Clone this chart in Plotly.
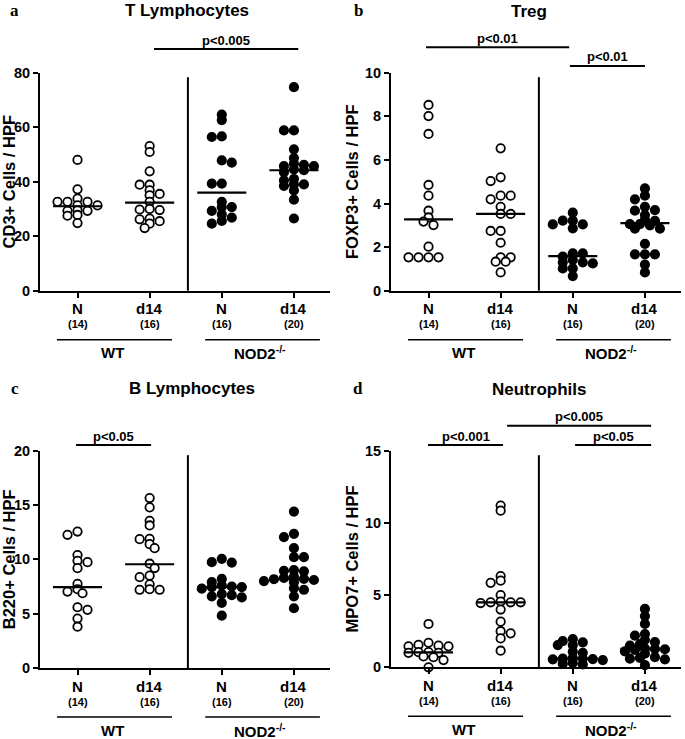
import math
import plotly.graph_objects as go

W, H = 685, 739

# ---------------- data ----------------
groups = ["N", "d14", "N", "d14"]
counts = ["(14)", "(16)", "(16)", "(20)"]
genotypes = ["WT", "NOD2<sup>-/-</sup>"]

t_wt_n = [48.0, 37.2, 33.8, 32.6, 32.6, 32.6, 31.3, 31.3, 29.5, 29.3, 29.3, 27.8, 27.5, 24.8]
t_wt_d14 = [53.1, 50.9, 43.8, 38.9, 38.9, 36.8, 35.5, 35.0, 32.6, 30.0, 29.8, 29.6, 26.5, 26.2, 25.5, 24.6, 23.0]
t_ko_n = [64.6, 62.6, 56.6, 56.4, 47.8, 47.0, 39.3, 39.3, 32.6, 30.7, 30.7, 29.3, 28.0, 26.8, 25.6, 24.6]
t_ko_d14 = [74.7, 58.8, 58.8, 51.9, 48.7, 46.6, 46.2, 45.7, 45.7, 44.5, 44.2, 43.5, 41.0, 40.5, 39.0, 39.0, 38.5, 36.8, 33.4, 26.5]
t_med = [31.0, 32.3, 36.0, 44.2]

tr_wt_n = [8.52, 8.01, 7.19, 4.85, 4.36, 3.67, 3.36, 3.17, 3.01, 2.02, 1.53, 1.53, 1.53, 1.53]
tr_wt_d14 = [6.53, 5.2, 5.03, 4.36, 4.36, 4.19, 3.85, 3.52, 3.52, 2.74, 2.74, 2.2, 1.53, 1.53, 1.33, 1.33, 0.84]
tr_ko_n = [3.58, 3.21, 3.21, 3.04, 3.04, 2.86, 1.71, 1.71, 1.56, 1.41, 1.3, 1.25, 1.3, 1.02, 1.02, 0.67]
tr_ko_d14 = [4.69, 4.36, 4.19, 3.85, 3.7, 3.67, 3.47, 3.25, 3.2, 3.05, 3.05, 3.0, 2.85, 2.85, 2.15, 1.67, 1.67, 1.67, 1.2, 0.84]
tr_med = [3.27, 3.52, 1.59, 3.1]

b_wt_n = [12.56, 12.26, 10.4, 9.86, 9.74, 9.19, 7.74, 7.25, 7.03, 6.88, 5.59, 5.35, 4.55, 3.8]
b_wt_d14 = [15.64, 14.78, 13.55, 13.12, 11.89, 11.86, 11.4, 11.03, 9.6, 9.2, 8.5, 8.36, 7.7, 7.25, 7.2, 7.2]
b_ko_n = [10.05, 9.74, 9.7, 8.2, 7.9, 7.6, 7.5, 7.45, 7.45, 7.3, 6.8, 6.7, 6.6, 6.5, 6.0, 4.82]
b_ko_d14 = [14.4, 12.35, 12.05, 11.03, 10.2, 10.2, 9.0, 8.95, 8.9, 8.4, 8.3, 8.2, 8.17, 8.1, 8.0, 7.9, 7.35, 7.2, 6.6, 5.5]
b_med = [7.44, 9.55, 7.45, 8.17]

n_wt_n = [3.0, 1.7, 1.55, 1.5, 1.45, 1.45, 1.05, 1.05, 1.0, 1.0, 0.75, 0.7, 0.5, 0.0]
n_wt_d14 = [11.2, 10.85, 6.32, 6.0, 5.85, 5.0, 4.55, 4.5, 4.5, 4.5, 4.45, 4.0, 3.16, 2.5, 2.35, 2.0, 1.15]
n_ko_n = [1.96, 1.82, 1.73, 1.54, 1.54, 1.08, 1.0, 0.65, 0.6, 0.6, 0.57, 0.55, 0.5, 0.3, 0.25, 0.2]
n_ko_d14 = [4.04, 3.55, 3.0, 2.3, 2.19, 1.9, 1.75, 1.6, 1.5, 1.3, 1.27, 1.25, 1.2, 1.1, 0.95, 0.7, 0.65, 0.6, 0.55, 0.15]
n_med = [1.04, 4.5, 0.6, 1.27]

titles = ["T Lymphocytes", "Treg", "B Lymphocytes", "Neutrophils"]
letters = ["a", "b", "c", "d"]
ytitles = ["CD3+ Cells / HPF", "FOXP3+ Cells / HPF", "B220+ Cells / HPF", "MPO7+ Cells / HPF"]
ymaxes = [80, 10, 20, 15]
ydticks = [20, 2, 5, 5]

# significance comparisons: (from x, to x, label, level)
sig_a = [(1.06, 3.06, "p<0.005", 0)]
sig_b = [(-0.035, 1.95, "p<0.01", 0), (1.96, 3.0, "p<0.01", 1)]
sig_c = [(-0.02, 1.02, "p<0.05", 1)]
sig_d = [(-0.007, 1.033, "p<0.001", 1), (1.09, 3.086, "p<0.005", 0), (2.032, 3.086, "p<0.05", 1)]

panel_data = [
    [t_wt_n, t_wt_d14, t_ko_n, t_ko_d14],
    [tr_wt_n, tr_wt_d14, tr_ko_n, tr_ko_d14],
    [b_wt_n, b_wt_d14, b_ko_n, b_ko_d14],
    [n_wt_n, n_wt_d14, n_ko_n, n_ko_d14],
]
panel_med = [t_med, tr_med, b_med, n_med]
panel_sig = [sig_a, sig_b, sig_c, sig_d]

# ---------------- layout geometry (pixels) ----------------
XR = [-0.52, 3.5]
geo = [
    dict(x0=40, x1=330, yt=72.7, yb=290.7, title=(187, 10), letter=(14, 10),
         sig_y=[(49, 41), (66, 57)]),
    dict(x0=391, x1=681, yt=72.7, yb=290.7, title=(529, 12), letter=(358, 10),
         sig_y=[(47.3, 38.3), (66, 57)]),
    dict(x0=40, x1=330, yt=450.7, yb=668, title=(192, 388), letter=(15, 388),
         sig_y=[(425.7, 416.7), (445, 436)]),
    dict(x0=391, x1=681, yt=450.7, yb=667.3, title=(539, 389), letter=(358, 388),
         sig_y=[(425.7, 416.7), (445, 436)]),
]


def px(x):
    return x / W


def py(y):
    return 1 - y / H


def swarm(vals, ppx, ppy, D=10.0, DY=4.6):
    """GraphPad-like scatter layout: half-diameter horizontal grid,
    elliptical collision that tolerates some vertical overlap."""
    pts = []
    offs = [0.0] * len(vals)
    order = sorted(range(len(vals)), key=lambda i: -vals[i])
    steps = [k * D / 2 for k in range(0, 14)]
    for i in order:
        y = vals[i] * ppy
        bal = sum(q[0] for q in pts)
        chosen = 0.0
        for s in steps:
            cands = [0.0] if s == 0 else ([-s, s] if bal >= 0 else [s, -s])
            ok = None
            for c in cands:
                if all(((c - qx) / D) ** 2 + ((y - qy) / DY) ** 2 >= 1 - 1e-6
                       or (abs(c - qx) >= D - 1e-6) for qx, qy in pts):
                    ok = c
                    break
            if ok is not None:
                chosen = ok
                break
        pts.append((chosen, y))
        offs[i] = chosen / ppx
    return offs


FONT = "Liberation Sans"
fig = go.Figure()
annotations = []
shapes = []
layout_axes = {}

for p in range(4):
    g = geo[p]
    ax = "" if p == 0 else str(p + 1)
    xname, yname = "x" + ax, "y" + ax
    ppx = (g["x1"] - g["x0"]) / (XR[1] - XR[0])
    ppy = (g["yb"] - g["yt"]) / ymaxes[p]
    for gi, vals in enumerate(panel_data[p]):
        offs = swarm(vals, ppx, ppy)
        xs = [gi + o for o in offs]
        filled = gi >= 2
        fig.add_trace(go.Scatter(
            x=xs, y=vals, mode="markers", xaxis=xname, yaxis=yname,
            cliponaxis=False, showlegend=False, hoverinfo="y",
            marker=dict(size=8.4, color="black" if filled else "white",
                        line=dict(color="black", width=1.8))))
        m = panel_med[p][gi]
        fig.add_trace(go.Scatter(
            x=[gi - 0.34, gi + 0.34], y=[m, m], mode="lines", xaxis=xname, yaxis=yname,
            showlegend=False, hoverinfo="skip", cliponaxis=False,
            line=dict(color="black", width=2.2)))

    tv = list(range(0, ymaxes[p] + 1, ydticks[p]))
    layout_axes["xaxis" + ax] = dict(
        domain=[px(g["x0"]), px(g["x1"])], range=XR, anchor=yname,
        showline=True, linecolor="black", linewidth=2, showgrid=False, zeroline=False,
        tickvals=[0, 1, 2, 3], ticks="outside", ticklen=5, tickwidth=2, tickcolor="black",
        showticklabels=False, fixedrange=True)
    layout_axes["yaxis" + ax] = dict(
        domain=[py(g["yb"]), py(g["yt"])], range=[0, ymaxes[p]], anchor=xname,
        showline=True, linecolor="black", linewidth=2, showgrid=False, zeroline=False,
        tickvals=tv, ticktext=["<b>%d</b>" % v for v in tv],
        ticks="outside", ticklen=5, tickwidth=2, tickcolor="black",
        tickfont=dict(family=FONT, size=14.5, color="black"), fixedrange=True,
        automargin=False,
        title=dict(text="<b>%s</b>" % ytitles[p], standoff=2,
                   font=dict(family=FONT, size=16.5, color="black")))

    # separator line between genotypes
    shapes.append(dict(type="line", xref=xname, yref="paper", x0=1.53, x1=1.53,
                       y0=py(g["yb"]), y1=py(g["yt"] + 4.5),
                       line=dict(color="black", width=2)))

    # x category labels
    for gi in range(4):
        annotations.append(dict(x=gi, y=py(g["yb"] + 18), xref=xname, yref="paper",
                                text="<b>%s</b>" % groups[gi], showarrow=False,
                                font=dict(family=FONT, size=15, color="black"),
                                xanchor="center", yanchor="middle"))
        annotations.append(dict(x=gi, y=py(g["yb"] + 33.5), xref=xname, yref="paper",
                                text="<b>%s</b>" % counts[gi], showarrow=False,
                                font=dict(family=FONT, size=11, color="black"),
                                xanchor="center", yanchor="middle"))
    # genotype group lines + labels
    for k, (a0, a1, cx) in enumerate([(-0.284, 1.31, 0.48), (1.77, 3.36, 2.53)]):
        shapes.append(dict(type="line", xref=xname, yref="paper", x0=a0, x1=a1,
                           y0=py(g["yb"] + 49), y1=py(g["yb"] + 49),
                           line=dict(color="black", width=1.6)))
        annotations.append(dict(x=cx, y=py(g["yb"] + 62), xref=xname, yref="paper",
                                text="<b>%s</b>" % genotypes[k], showarrow=False,
                                font=dict(family=FONT, size=15, color="black"),
                                xanchor="center", yanchor="middle"))

    # significance bars
    for (s0, s1, lab, lvl) in panel_sig[p]:
        ly, ty = g["sig_y"][lvl]
        shapes.append(dict(type="line", xref=xname, yref="paper", x0=s0, x1=s1,
                           y0=py(ly), y1=py(ly), line=dict(color="black", width=2)))
        annotations.append(dict(x=(s0 + s1) / 2, y=py(ty), xref=xname, yref="paper",
                                text="<b>%s</b>" % lab, showarrow=False,
                                font=dict(family=FONT, size=13, color="black"),
                                xanchor="center", yanchor="middle"))

    # titles
    annotations.append(dict(x=px(g["title"][0]), y=py(g["title"][1]), xref="paper", yref="paper",
                            text="<b>%s</b>" % titles[p], showarrow=False,
                            font=dict(family=FONT, size=17, color="black"),
                            xanchor="center", yanchor="middle"))
    annotations.append(dict(x=px(g["letter"][0]), y=py(g["letter"][1]), xref="paper", yref="paper",
                            text="<b>%s</b>" % letters[p], showarrow=False,
                            font=dict(family="Liberation Serif", size=17, color="black"),
                            xanchor="center", yanchor="middle"))

fig.update_layout(
    width=W, height=H, margin=dict(l=0, r=0, t=0, b=0),
    paper_bgcolor="white", plot_bgcolor="white",
    annotations=annotations, shapes=shapes, showlegend=False,
    **layout_axes)

fig.write_html("out.html",
               config={"displayModeBar": False, "staticPlot": True},
               post_script="document.body.style.margin='0px';"
                           "document.body.style.overflow='hidden';")
